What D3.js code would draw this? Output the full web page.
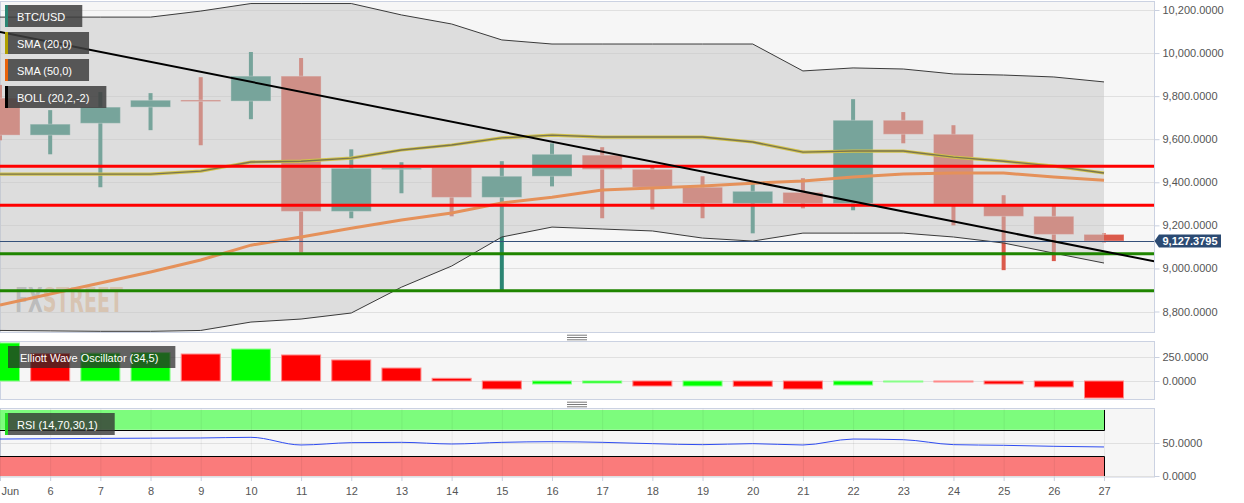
<!DOCTYPE html>
<html>
<head>
<meta charset="utf-8">
<script src="https://cdnjs.cloudflare.com/ajax/libs/d3/7.8.5/d3.min.js"></script>
<style>
  body { margin: 0; background: #fff; }
  svg { display: block; font-family: "Liberation Sans", Arial, sans-serif; }
  .axis text { fill: #555; font-size: 11px; }
  .axis line { stroke: #c9d0df; }
  .axis .domain { display: none; }
  .grid line { stroke: #e0e0e0; }
</style>
</head>
<body>
<div id="container"></div>
<script>
// ---- data (June, BTC/USD daily) ----
var days   = [5, 6, 7, 8, 9, 10, 11, 12, 13, 14, 15, 16, 17, 18, 19, 20, 21, 22, 23, 24, 25, 26, 27];
var open   = [9791, 9619, 9674, 9749, 9782, 9777, 9893, 9265, 9462, 9470, 9330, 9428, 9526, 9460, 9377, 9302, 9353, 9302, 9688, 9623, 9298, 9242, 9158];
var high   = [9852, 9735, 9819, 9814, 9888, 10005, 9977, 9553, 9493, 9470, 9498, 9581, 9563, 9474, 9428, 9395, 9419, 9786, 9726, 9665, 9340, 9293, 9163];
var low    = [9595, 9530, 9377, 9642, 9572, 9693, 9074, 9233, 9349, 9242, 8900, 9381, 9233, 9274, 9233, 9163, 9279, 9270, 9581, 9200, 8992, 9034, 9121];
var close  = [9619, 9670, 9749, 9781, 9780, 9893, 9265, 9465, 9466, 9330, 9428, 9530, 9460, 9377, 9302, 9358, 9302, 9688, 9623, 9298, 9242, 9158, 9127.3795];

var bollUpper = [10167, 10167, 10167, 10167, 10195, 10230, 10230, 10230, 10177, 10135, 10061, 10042, 10042, 10042, 10042, 10042, 9917, 9931, 9926, 9903, 9898, 9889, 9866];
var bollLower = [8712, 8710, 8708, 8708, 8712, 8751, 8765, 8793, 8913, 9011, 9146, 9192, 9183, 9174, 9141, 9127, 9164, 9164, 9164, 9146, 9118, 9071, 9025];
var sma20     = [9438, 9438, 9438, 9438, 9452, 9494, 9498, 9512, 9550, 9573, 9606, 9619, 9610, 9610, 9610, 9587, 9540, 9545, 9545, 9517, 9498, 9475, 9443];
var sma50     = [8830, 8881, 8932, 8983, 9039, 9108, 9146, 9187, 9225, 9257, 9304, 9331, 9364, 9373, 9383, 9396, 9406, 9424, 9438, 9443, 9443, 9424, 9410];

var ewo = [396, 285, 290, 296, 281, 333, 271, 219, 135, 28, -83, -31, -21, -52, -52, -55, -83, -42, -2, -10, -31, -62, -177];
var rsi = [56, 56.5, 57, 57.3, 57.6, 58.6, 47, 50.5, 51, 48.5, 51, 52, 51, 49, 47.5, 49, 47, 56, 55, 47.5, 46.5, 45, 44];

var resistance = [9474, 9293];
var support = [9068, 8896];
var trendDays = [5, 28];
var trendValues = [10098, 9033];
var lastPrice = 9127.3795;

var priceTicks = [8800, 9000, 9200, 9400, 9600, 9800, 10000, 10200];
var ewoTicks = [0, 250];
var rsiTicks = [0, 50];
var rsiOver = [70, 100];
var rsiUnder = [0, 30];

// ---- layout ----
var width = 1244, height = 503,
    plotW = 1154;
var mainP = {top: 1.5, bottom: 332.5},
    ewoP  = {top: 341.5, bottom: 399.5},
    rsiP  = {top: 408.5, bottom: 477};

var x = d3.scaleLinear().domain([5, 27]).range([0, 1104]);
var y = d3.scaleLinear().domain([8800, 10200]).range([311.5, 10]);
var yE = d3.scaleLinear().domain([0, 250]).range([381, 357]);
var yR = d3.scaleLinear().domain([0, 50]).range([476, 443]);

var bodyW = 40, wickW = 4;
var upCol = "#2b8573", downCol = "#db5a4b";

var svg = d3.select("#container").append("svg")
    .attr("width", width)
    .attr("height", height);

var defs = svg.append("defs");
[["clipMain", mainP], ["clipEwo", ewoP], ["clipRsi", rsiP]].forEach(function(c) {
  defs.append("clipPath").attr("id", c[0]).append("rect")
    .attr("x", 0).attr("y", c[1].top).attr("width", plotW).attr("height", c[1].bottom - c[1].top);
});

function panel(p) {
  svg.append("rect")
    .attr("x", 0.5).attr("y", p.top)
    .attr("width", plotW).attr("height", p.bottom - p.top)
    .attr("fill", "#f6f6f6")
    .attr("stroke", "#cbd2e2");
}
panel(mainP); panel(ewoP); panel(rsiP);

function grid(scale, ticks) {
  svg.append("g").attr("class", "grid")
    .selectAll("line").data(ticks).enter().append("line")
      .attr("x1", 1).attr("x2", plotW)
      .attr("y1", function(d) { return Math.round(scale(d)) + 0.5; })
      .attr("y2", function(d) { return Math.round(scale(d)) + 0.5; });
}
grid(y, priceTicks);
grid(yE, ewoTicks);
grid(yR, rsiTicks);

// ---- main panel ----
var main = svg.append("g").attr("clip-path", "url(#clipMain)");

// watermark, squeezed to the logo's width
var wm = main.append("text")
  .attr("font-family", "'Liberation Sans Narrow', 'DejaVu Sans Condensed', sans-serif")
  .attr("font-weight", "bold").attr("font-size", 34);
wm.append("tspan").attr("fill", "rgba(135,135,135,0.62)").text("FX");
wm.append("tspan").attr("fill", "rgba(228,158,96,0.58)").text("STREET");
var wmW = wm.node().getComputedTextLength();
wm.attr("transform", "translate(15,312) scale(" + (108 / wmW) + ",1)");

// candles
var candles = days.map(function(d, i) {
  return {day: d, o: open[i], h: high[i], l: low[i], c: close[i]};
});
var cg = main.selectAll(".candle").data(candles).enter().append("g").attr("class", "candle");
cg.append("rect")
  .attr("x", function(d) { return x(d.day) - wickW / 2; })
  .attr("y", function(d) { return y(d.h); })
  .attr("width", wickW)
  .attr("height", function(d) { return y(d.l) - y(d.h); })
  .attr("fill", function(d) { return d.c >= d.o ? upCol : downCol; });
cg.append("rect")
  .attr("x", function(d) { return x(d.day) - bodyW / 2; })
  .attr("y", function(d) { return y(Math.max(d.o, d.c)); })
  .attr("width", bodyW)
  .attr("height", function(d) { return Math.max(1.5, Math.abs(y(d.o) - y(d.c))); })
  .attr("fill", function(d) { return d.c >= d.o ? upCol : downCol; })
  .attr("stroke", "rgba(255,255,255,0.35)")
  .attr("stroke-width", 1);

// bollinger band
var band = days.map(function(d, i) { return {day: d, up: bollUpper[i], lo: bollLower[i], s20: sma20[i], s50: sma50[i]}; });
main.append("path").datum(band)
  .attr("fill", "rgba(196,196,196,0.5)")
  .attr("d", d3.area().x(function(d) { return x(d.day); })
    .y0(function(d) { return y(d.lo); }).y1(function(d) { return y(d.up); }));
["up", "lo"].forEach(function(k) {
  main.append("path").datum(band)
    .attr("fill", "none").attr("stroke", "#3a3a3a").attr("stroke-width", 1)
    .attr("d", d3.line().x(function(d) { return x(d.day); }).y(function(d) { return y(d[k]); }));
});

// moving averages
main.append("path").datum(band)
  .attr("fill", "none").attr("stroke", "#e5915a").attr("stroke-width", 3)
  .attr("d", d3.line().x(function(d) { return x(d.day); }).y(function(d) { return y(d.s50); }));
var sLine = d3.line().x(function(d) { return x(d.day); }).y(function(d) { return y(d.s20); });
main.append("path").datum(band)
  .attr("fill", "none").attr("stroke", "#d2c24a").attr("stroke-width", 3.2).attr("d", sLine);
main.append("path").datum(band)
  .attr("fill", "none").attr("stroke", "#7a7650").attr("stroke-width", 1.4).attr("d", sLine);

// support / resistance
main.selectAll(".res").data(resistance).enter().append("line")
  .attr("x1", 0).attr("x2", plotW)
  .attr("y1", function(d) { return y(d); }).attr("y2", function(d) { return y(d); })
  .attr("stroke", "#ff0000").attr("stroke-width", 3);
main.selectAll(".sup").data(support).enter().append("line")
  .attr("x1", 0).attr("x2", plotW)
  .attr("y1", function(d) { return y(d); }).attr("y2", function(d) { return y(d); })
  .attr("stroke", "#1f8500").attr("stroke-width", 3);

// last price line
main.append("line")
  .attr("x1", 0).attr("x2", plotW)
  .attr("y1", Math.round(y(lastPrice)) + 0.5).attr("y2", Math.round(y(lastPrice)) + 0.5)
  .attr("stroke", "#34507a").attr("stroke-width", 1);

// trend line
main.append("line")
  .attr("x1", x(trendDays[0])).attr("y1", y(trendValues[0]))
  .attr("x2", x(trendDays[1])).attr("y2", y(trendValues[1]))
  .attr("stroke", "#000").attr("stroke-width", 2);

// ---- elliott wave oscillator ----
var eg = svg.append("g").attr("clip-path", "url(#clipEwo)");
eg.selectAll(".ewo").data(ewo).enter().append("rect")
  .attr("x", function(d, i) { return x(days[i]) - bodyW / 2 + 0.5; })
  .attr("y", function(d) { return yE(Math.max(0, d)); })
  .attr("width", bodyW - 1)
  .attr("height", function(d) { return Math.max(1, Math.abs(yE(d) - yE(0))); })
  .attr("fill", function(d, i) { return (i === 0 || d >= ewo[i - 1]) ? "#00ff00" : "#ff0000"; })
  .attr("stroke", function(d, i) { return (i === 0 || d >= ewo[i - 1]) ? "#88ff88" : "#ff8888"; })
  .attr("stroke-width", 1);

// ---- RSI ----
var rg = svg.append("g").attr("clip-path", "url(#clipRsi)");
rg.append("rect").attr("x", 0).attr("width", x(27))
  .attr("y", yR(rsiOver[1])).attr("height", yR(rsiOver[0]) - yR(rsiOver[1]))
  .attr("fill", "#7dfc7d");
rg.append("rect").attr("x", 0).attr("width", x(27))
  .attr("y", yR(rsiUnder[1])).attr("height", yR(rsiUnder[0]) - yR(rsiUnder[1]))
  .attr("fill", "#fa7b7b");
rg.selectAll(".vgrid").data(days).enter().append("line")
  .attr("x1", function(d) { return x(d) + 0.5; }).attr("x2", function(d) { return x(d) + 0.5; })
  .attr("y1", rsiP.top).attr("y2", rsiP.bottom)
  .attr("stroke", "rgba(0,0,0,0.06)");
rg.append("path")
  .attr("fill", "none").attr("stroke", "#000").attr("stroke-width", 1)
  .attr("d", "M0," + (Math.round(yR(rsiOver[0])) + 0.5) + "H" + (x(27) + 0.5) + "V" + yR(rsiOver[1]));
rg.append("path")
  .attr("fill", "none").attr("stroke", "#000").attr("stroke-width", 1)
  .attr("d", "M0," + (Math.round(yR(rsiUnder[1])) + 0.5) + "H" + (x(27) + 0.5) + "V" + yR(rsiUnder[0]));
rg.append("path").datum(rsi)
  .attr("fill", "none").attr("stroke", "#2f4cf0").attr("stroke-width", 1)
  .attr("d", d3.line().x(function(d, i) { return x(days[i]); }).y(function(d) { return yR(d); })
    .curve(d3.curveMonotoneX));

// ---- axes ----
var fmt = d3.format(",.4f");
function rightAxis(scale, ticks) {
  svg.append("g").attr("class", "axis")
    .attr("transform", "translate(" + (plotW + 0.5) + ",0)")
    .call(d3.axisRight(scale).tickValues(ticks).tickSize(5).tickPadding(3).tickFormat(fmt));
}
rightAxis(y, priceTicks);
rightAxis(yE, ewoTicks);
rightAxis(yR, rsiTicks);

var xAxis = svg.append("g").attr("class", "axis")
  .attr("transform", "translate(0," + rsiP.bottom + ")")
  .call(d3.axisBottom(x).tickValues(days).tickSize(4).tickPadding(6)
    .tickFormat(function(d) { return d === 5 ? "Jun" : d; }));
xAxis.selectAll(".tick").filter(function(d) { return d === 5; })
  .select("text").attr("text-anchor", "start").attr("x", 1);

// last price tag
var py = y(lastPrice);
svg.append("path")
  .attr("d", "M" + (plotW + 0.5) + "," + py + "L1159," + (py - 6.5) + "H1221V" + (py + 6.5) + "H1159Z")
  .attr("fill", "#2b4a72");
svg.append("text")
  .attr("x", 1190).attr("y", py + 4)
  .attr("text-anchor", "middle")
  .attr("fill", "#fff").attr("font-size", 11).attr("font-weight", "bold")
  .text(fmt(lastPrice));

// ---- handles ----
[337.5, 404.5].forEach(function(cy) {
  [-2.3, 0, 2.3].forEach(function(o) {
    svg.append("line").attr("x1", 567).attr("x2", 587)
      .attr("y1", cy + o).attr("y2", cy + o)
      .attr("stroke", "#6a6a6a").attr("stroke-width", 0.9);
  });
});

// ---- legends ----
function legend(x0, y0, label, marker, bg) {
  var g = svg.append("g");
  var box = g.append("rect").attr("x", x0).attr("y", y0).attr("height", 22)
    .attr("fill", bg || "rgba(62,62,62,0.85)");
  var t = g.append("text").attr("x", x0 + 12).attr("y", y0 + 15.7)
    .attr("fill", "#fff").attr("font-size", 11).text(label);
  box.attr("width", t.node().getComputedTextLength() + 29);
  if (marker) {
    g.append("rect").attr("x", x0).attr("y", y0).attr("width", 3).attr("height", 22).attr("fill", marker);
  }
}
legend(5, 5, "BTC/USD", "#2b8573");
legend(5, 32, "SMA (20,0)", "#b0a000");
legend(5, 59, "SMA (50,0)", "#e8620a");
legend(5, 86, "BOLL (20,2,-2)", "#000");
legend(8, 346, "Elliott Wave Oscillator (34,5)", null, "rgba(40,40,40,0.72)");
legend(5, 413, "RSI (14,70,30,1)", "#22dd22", "rgba(50,50,50,0.78)");
</script>
</body>
</html>
